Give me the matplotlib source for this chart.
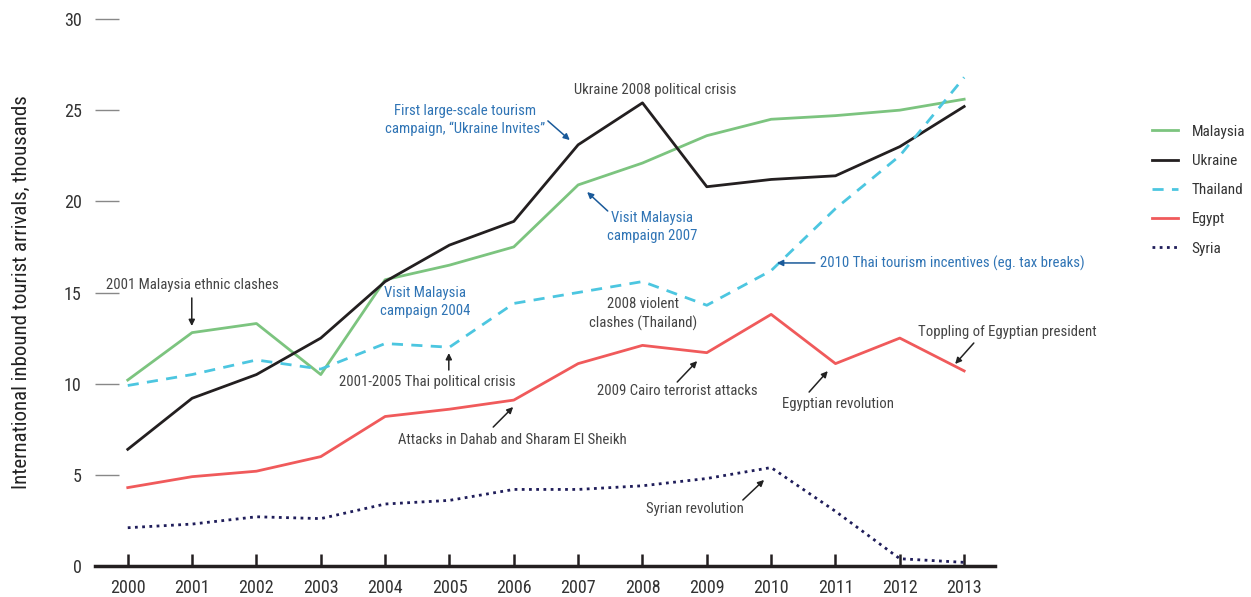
import numpy as np
import matplotlib
matplotlib.use("Agg")
import matplotlib.pyplot as plt
from matplotlib import font_manager

years = list(range(2000, 2014))
malaysia = [10.2, 12.8, 13.3, 10.5, 15.7, 16.5, 17.5, 20.9, 22.1, 23.6, 24.5, 24.7, 25.0, 25.6]
ukraine = [6.4, 9.2, 10.5, 12.5, 15.6, 17.6, 18.9, 23.1, 25.4, 20.8, 21.2, 21.4, 23.0, 25.2]
thailand = [9.9, 10.5, 11.3, 10.8, 12.2, 12.0, 14.4, 15.0, 15.6, 14.3, 16.2, 19.6, 22.5, 26.8]
egypt = [4.3, 4.9, 5.2, 6.0, 8.2, 8.6, 9.1, 11.1, 12.1, 11.7, 13.8, 11.1, 12.5, 10.7]
syria = [2.1, 2.3, 2.7, 2.6, 3.4, 3.6, 4.2, 4.2, 4.4, 4.8, 5.4, 3.0, 0.4, 0.2]

# look for a narrow face, the original uses a condensed sans
family, stretch = "Roboto", "normal"
fonts = font_manager.fontManager.ttflist
for want in ["Liberation Sans Narrow", "Roboto Condensed", "Open Sans Condensed", "DejaVu Sans"]:
    hit = [f for f in fonts if f.name == want and f.style == "normal"
           and ("Condensed" in f.fname or "Narrow" in f.fname or "Condensed" in want or "Narrow" in want)]
    if hit:
        family = want
        stretch = hit[0].stretch
        break
plt.rcParams['font.family'] = [family, 'DejaVu Sans']
plt.rcParams['font.stretch'] = stretch

GREY = "#444444"
BLUE = "#2f74b5"
ABLUE = "#1a5a9a"
NOTE_SIZE = 10.6 if family != "Roboto" else 9.3

fig = plt.figure(figsize=(12.51, 5.97), dpi=100)
ax = fig.add_axes([0.0759, 0.0519, 0.7195, 0.9163])

ax.plot(years, malaysia, color="#7cc47f", lw=2, label="Malaysia")
ax.plot(years, ukraine, color="#231f20", lw=2, label="Ukraine")
ax.plot(years, thailand, color="#4cc6e0", lw=2, ls=(0, (4, 3)), label="Thailand")
ax.plot(years, egypt, color="#f05a5b", lw=2, label="Egypt")
ax.plot(years, syria, color="#1f1d5a", lw=2, ls=(0, (1, 1.6)), label="Syria")

ax.set_xlim(1999.49, 2013.48)
ax.set_ylim(0, 30)
ax.set_xticks(years)
ax.set_yticks([0, 5, 10, 15, 20, 25, 30])
for s in ["top", "right", "left"]:
    ax.spines[s].set_visible(False)
ax.spines["bottom"].set_linewidth(2.5)
ax.spines["bottom"].set_color("#231f20")
ax.tick_params(axis="x", direction="in", length=9, width=1.8, color="#231f20",
               labelsize=13, labelcolor="#333333", pad=9)
ax.tick_params(axis="y", direction="in", length=17, width=1, color="#888888",
               labelsize=13, labelcolor="#333333", pad=9.5)
ax.set_ylabel("International inbound tourist arrivals, thousands", fontsize=15,
              color="#222222", labelpad=24)

leg = ax.legend(loc="upper left", bbox_to_anchor=(1.159, 0.832), frameon=False,
                fontsize=11, handlelength=1.7, labelspacing=1.0, handletextpad=0.9)
for t in leg.get_texts():
    t.set_color("#333333")

def note(txt, x, y, color=GREY, ha="center"):
    ax.text(x, y, txt, color=color, fontsize=NOTE_SIZE, ha=ha, va="center",
            linespacing=1.35)

def arrow(x0, y0, x1, y1, color="#222222"):
    ax.annotate("", xy=(x1, y1), xytext=(x0, y0),
                arrowprops=dict(arrowstyle="-|>", color=color, lw=1.1,
                                mutation_scale=9, shrinkA=0, shrinkB=0))

note("Ukraine 2008 political crisis", 2008.19, 26.1)
note("First large-scale tourism\ncampaign, \u201cUkraine Invites\u201d", 2005.24, 24.46, BLUE)
arrow(2006.53, 24.41, 2006.87, 23.36, ABLUE)
note("Visit Malaysia\ncampaign 2007", 2008.15, 18.59, BLUE)
arrow(2007.46, 19.47, 2007.14, 20.51, ABLUE)
note("2001 Malaysia ethnic clashes", 2001.0, 15.41)
arrow(2000.995, 14.7, 2000.995, 13.16)
note("Visit Malaysia\ncampaign 2004", 2004.62, 14.48, BLUE)
note("2001-2005 Thai political crisis", 2004.65, 10.09)
arrow(2004.99, 10.75, 2004.99, 11.68)
note("Attacks in Dahab and Sharam El Sheikh", 2005.97, 6.91)
arrow(2005.68, 7.62, 2005.99, 8.72)
note("2008 violent\nclashes (Thailand)", 2008.01, 13.82)
note("2010 Thai tourism incentives (eg. tax breaks)", 2010.76, 16.62, BLUE, ha="left")
arrow(2010.68, 16.62, 2010.09, 16.62, ABLUE)
note("Toppling of Egyptian president", 2013.67, 12.83)
arrow(2013.15, 12.23, 2012.86, 11.08)
note("2009 Cairo terrorist attacks", 2008.54, 9.6)
arrow(2008.54, 10.09, 2008.85, 11.24)
note("Egyptian revolution", 2011.04, 8.89)
arrow(2010.59, 9.54, 2010.88, 10.69)
note("Syrian revolution", 2008.82, 3.13)
arrow(2009.56, 3.62, 2009.89, 4.72)

fig.savefig("out.png", dpi=100)
